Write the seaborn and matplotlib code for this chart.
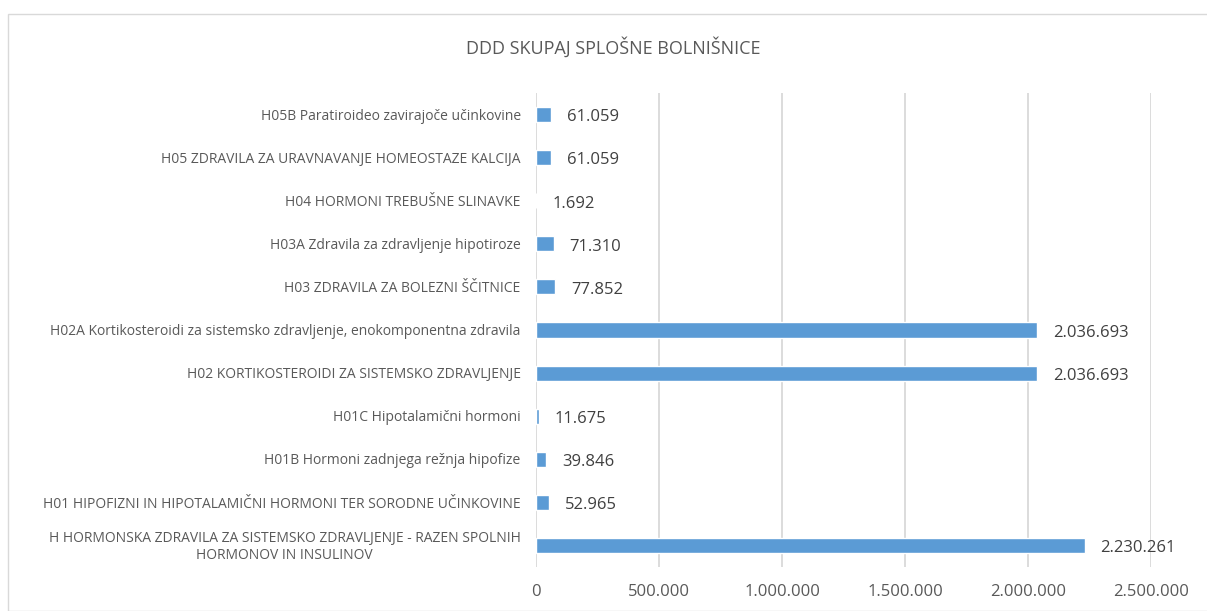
import numpy as np
import pandas as pd
import seaborn as sns
import matplotlib.pyplot as plt
from matplotlib.patches import Rectangle

# podatki: kategorije (od zgoraj navzdol) in DDD vrednosti
categories = [
    'H05B Paratiroideo zavirajoče učinkovine',
    'H05 ZDRAVILA ZA URAVNAVANJE HOMEOSTAZE KALCIJA',
    'H04 HORMONI TREBUŠNE SLINAVKE',
    'H03A Zdravila za zdravljenje hipotiroze',
    'H03 ZDRAVILA ZA BOLEZNI ŠČITNICE',
    'H02A Kortikosteroidi za sistemsko zdravljenje, enokomponentna zdravila',
    'H02 KORTIKOSTEROIDI ZA SISTEMSKO ZDRAVLJENJE',
    'H01C Hipotalamični hormoni',
    'H01B Hormoni zadnjega režnja hipofize',
    'H01 HIPOFIZNI IN HIPOTALAMIČNI HORMONI TER SORODNE UČINKOVINE',
    'H HORMONSKA ZDRAVILA ZA SISTEMSKO ZDRAVLJENJE - RAZEN SPOLNIH\nHORMONOV IN INSULINOV',
]
ddd = [61059, 61059, 1692, 71310, 77852, 2036693, 2036693, 11675, 39846, 52965, 2230261]
xticks = [0, 500000, 1000000, 1500000, 2000000, 2500000]

df = pd.DataFrame({'Skupina': categories, 'DDD': ddd})

def fmt(v):
    return f'{v:,}'.replace(',', '.')

sns.set_style('white')
plt.rcParams['font.family'] = ['Open Sans', 'DejaVu Sans']
gray = '#595959'

fig = plt.figure(figsize=(12.07, 6.11), dpi=100)
ax = fig.add_axes([536 / 1207, 1 - 567 / 611, (1151 - 536) / 1207, (567 - 93) / 611])

sns.barplot(data=df, x='DDD', y='Skupina', orient='h', color='#5B9BD5',
            width=0.35, saturation=1, ax=ax)

ax.set_xlim(0, 2500000)
ax.set_xticks(xticks)
ax.set_xticklabels([fmt(t) for t in xticks], color=gray, fontsize=12)
ax.set_yticks(range(len(categories)))
ax.set_yticklabels([])
ax.tick_params(axis='y', length=0)
ax.tick_params(axis='x', pad=12, length=0)
ax.set_xlabel('')
ax.set_ylabel('')
ax.grid(axis='x', color='#D9D9D9', linewidth=1.3)
ax.set_axisbelow(True)
for s in ax.spines.values():
    s.set_visible(False)

# imena kategorij (večvrstična so sredinsko poravnana)
for i, name in enumerate(categories):
    ax.annotate(name, xy=(0, i), xycoords=ax.get_yaxis_transform(),
                xytext=(-11, -1.2), textcoords='offset points',
                ha='right', va='center', multialignment='center',
                fontsize=10, color=gray)

# oznake vrednosti
for i, v in enumerate(ddd):
    ax.annotate(fmt(v), xy=(v, i), xytext=(11.5, -2), textcoords='offset points',
                va='center', ha='left', fontsize=12, color='#404040')

fig.text(613 / 1207, 1 - 47 / 611, 'DDD SKUPAJ SPLOŠNE BOLNIŠNICE',
         ha='center', va='center', fontsize=13, color=gray)

# okvir grafikona
fig.patches.append(Rectangle((8 / 1207, 0), 1.0, 1 - 14 / 611, transform=fig.transFigure,
                             fill=False, edgecolor='#D9D9D9', linewidth=1))

fig.savefig('out.png', dpi=100)
